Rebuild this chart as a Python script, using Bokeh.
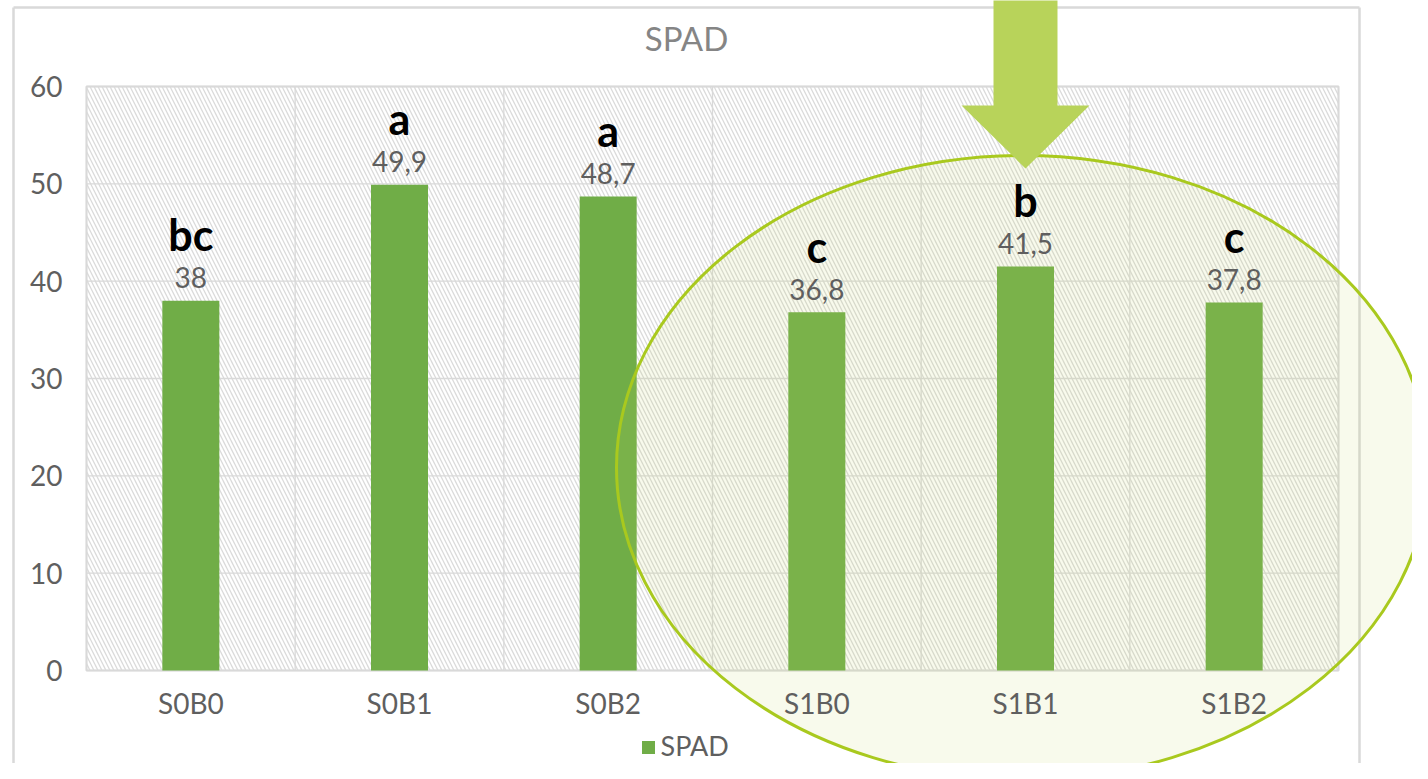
from bokeh.plotting import figure
from bokeh.models import Range1d
from bokeh.embed import file_html
from bokeh.resources import INLINE
from bokeh.core.properties import value

# ---------------- data ----------------
categories = ["S0B0", "S0B1", "S0B2", "S1B0", "S1B1", "S1B2"]
spad = [38.0, 49.9, 48.7, 36.8, 41.5, 37.8]
spad_labels = ["38", "49,9", "48,7", "36,8", "41,5", "37,8"]
letters = ["bc", "a", "a", "c", "b", "c"]
y_ticks = [0, 10, 20, 30, 40, 50, 60]
y_tick_labels = ["0", "10", "20", "30", "40", "50", "60"]
title_text = "SPAD"
series_name = "SPAD"
arrow_target = "S1B1"

# ---------------- layout (pixels) ----------------
W, H = 1412, 763
AL, AR, AT, AB = 86, 1338, 86, 670   # plot area inside figure
YMAX = 60
n = len(categories)
px_x = (AR - AL) / n
px_y = (AB - AT) / YMAX


def dx(px):
    return px / px_x


def dy(px):
    return px / px_y


x_start = -dx(AL)
x_end = n + dx(W - AR)
y_end = YMAX + dy(AT)
y_start = -dy(H - AB)

FONT = value("Lato")
GRID = "#d9d9d9"
TXT = "#5f5f5f"
BAR = "#70ad47"

p = figure(width=W, height=H, x_range=Range1d(x_start, x_end), y_range=Range1d(y_start, y_end),
           x_axis_type=None, y_axis_type=None, toolbar_location=None, output_backend="svg",
           min_border=0, min_border_left=0, min_border_right=0, min_border_top=0, min_border_bottom=0,
           outline_line_color=None, background_fill_color="white", border_fill_color="white")

xs = [i + 0.5 for i in range(n)]

# outer chart border
bx0, bx1, btop = dx(13 - AL), dx(1359 - AL), YMAX + dy(AT - 7)
p.multi_line(xs=[[bx0, bx0], [bx0, bx1], [bx1, bx1]],
             ys=[[y_start - 1, btop], [btop, btop], [btop, y_start - 1]],
             line_color=GRID, line_width=2.5)

# hatched plot area
p.quad(left=[0], right=[n], bottom=[0], top=[YMAX], fill_color="white",
       hatch_pattern="\\", hatch_color="#dadada", hatch_scale=8, hatch_weight=1.3,
       line_color=None)

# grid lines
p.segment(x0=[0] * len(y_ticks), y0=y_ticks, x1=[n] * len(y_ticks), y1=y_ticks,
          line_color=GRID, line_width=1.3)
p.segment(x0=list(range(n + 1)), y0=[0] * (n + 1), x1=list(range(n + 1)), y1=[YMAX] * (n + 1),
          line_color=GRID, line_width=1.3)
p.quad(left=[0], right=[n], bottom=[0], top=[YMAX], fill_color=None,
       line_color=GRID, line_width=2)

# bars
p.vbar(x=xs, top=spad, width=dx(57), fill_color=BAR, line_color=None)

# highlight ellipse
ti = categories.index(arrow_target)
ecx = ti + 0.5 - dx(3)
ecy = dy(AB - 467)
p.ellipse(x=[ecx], y=[ecy], width=[dx(812)], height=[dy(624)],
          fill_color="#c2d965", fill_alpha=0.12, line_color="#a9c91e", line_width=3)

# value labels
p.text(x=xs, y=[v + dy(23) for v in spad], text=spad_labels, text_font=FONT,
       text_font_size="28px", text_color=TXT, text_align="center", text_baseline="alphabetic")

# significance letters
p.text(x=xs, y=[v + dy(66) for v in spad], text=letters, text_font=FONT,
       text_font_size="43px", text_font_style="bold", text_color="#000000",
       text_align="center", text_baseline="alphabetic")

# y tick labels
p.text(x=[-dx(24)] * len(y_ticks), y=y_ticks, text=y_tick_labels, text_font=FONT,
       text_font_size="28px", text_color=TXT, text_align="right", text_baseline="middle")

# x tick labels
p.text(x=xs, y=[-dy(32)] * n, text=categories, text_font=FONT,
       text_font_size="28px", text_color=TXT, text_align="center", text_baseline="middle")

# title
p.text(x=[dx(686 - AL)], y=[YMAX + dy(AT - 37)], text=[title_text], text_font=FONT,
       text_font_size="33px", text_color="#858585", text_align="center", text_baseline="middle")

# legend
p.scatter(x=[dx(648 - AL)], y=[-dy(747 - AB)], marker="square", size=13,
          fill_color=BAR, line_color=None)
p.text(x=[dx(660 - AL)], y=[-dy(745 - AB)], text=[series_name], text_font=FONT,
       text_font_size="27px", text_color=TXT, text_align="left", text_baseline="middle")

# arrow
acx = ti + 0.5
tip = dy(AB - 168)
base = dy(AB - 105)
topy = y_end + 1
p.patch(x=[acx - dx(32), acx + dx(32), acx + dx(32), acx + dx(64), acx, acx - dx(64), acx - dx(32)],
        y=[topy, topy, base, base, tip, base, base],
        fill_color="#b8d35a", line_color=None)

open("out.html", "w").write(file_html(p, INLINE))
